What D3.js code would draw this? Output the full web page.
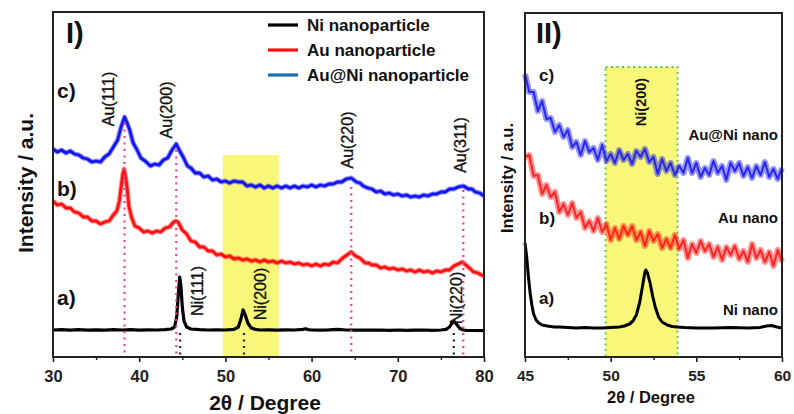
<!DOCTYPE html>
<html><head><meta charset="utf-8">
<script src="https://cdn.jsdelivr.net/npm/d3@7"></script>
<style>
html,body{margin:0;padding:0;background:#fff;}
svg{display:block;font-family:"Liberation Sans",Arial,sans-serif;}
</style></head>
<body><svg id="c" width="794" height="414"></svg>
<script>
// ---------- DATA ----------
// Panel I: 2θ (degree) vs intensity (a.u.)
const niLeft = [[30,27],[31,27.4],[32,26.8],[33,27.3],[34,26.9],[35,27.2],[36,26.8],[37,27.3],[38,27],[39,27.3],[40,26.9],[41,27.2],[42,27],[43,27.4],[43.7,28],[44.1,30],[44.35,40],[44.55,64],[44.7,80],[44.85,70],[45.0,50],[45.2,36],[45.5,30],[46,28],[47,27.3],[48,27],[49,27.2],[50,27],[51,27.6],[51.5,30],[51.8,38],[52.05,47],[52.3,42],[52.6,34],[53,29],[53.5,27.6],[54,27],[55,27.2],[56,26.8],[57,27.1],[58,27],[59,27.6],[59.3,28.2],[59.6,27.4],[60,27],[61,26.8],[62,27.1],[63,27.6],[64,27],[65,26.8],[66,27],[67,26.9],[68,27],[69,26.7],[70,27],[71,26.7],[72,26.8],[73,27],[74,26.7],[75,27],[75.6,27.6],[76,30],[76.3,34],[76.5,36],[76.8,33],[77.2,28.5],[77.6,27],[78,26.6],[79,26.5],[80,26.3]];
const auLeft = [[30,156],[30.5,152],[31,153],[31.5,149],[32,149],[32.5,145],[33,144],[33.5,140],[34,140],[34.5,136],[35,136],[35.5,133],[36,135],[36.5,136],[37,142],[37.4,146],[37.7,156],[37.9,170],[38.1,183],[38.25,188],[38.4,181],[38.6,169],[38.8,151],[39.1,140],[39.5,131],[40,129],[40.5,125],[41,126],[41.5,124],[42,126],[42.5,125],[43,129],[43.5,130],[44,135],[44.25,136],[44.5,135],[45,127],[45.5,123],[46,116],[46.5,115],[47,110],[47.5,110],[48,106],[48.5,106],[49,102],[49.5,103],[50,100],[50.5,101],[51,98],[51.5,99],[52,97],[52.5,98],[53,96],[53.5,97],[54,95],[54.5,97],[55,95],[55.5,96],[56,94],[56.5,96],[57,94],[57.5,95],[58,93],[58.5,94],[59,92],[59.5,93],[60,91],[60.5,93],[61,91],[61.5,93],[62,92],[62.5,95],[63,94],[63.6,99],[64.1,102],[64.6,105],[65.1,101],[65.6,99],[66.2,94],[66.6,94],[67,92],[67.5,92],[68,89],[68.5,90],[69,88],[69.5,89],[70,87],[70.5,88],[71,86],[71.5,87],[72,85],[72.5,87],[73,85],[73.5,86],[74,84],[74.5,86],[75,85],[75.5,87],[76,87],[76.5,91],[77,93],[77.5,95],[77.9,92],[78.3,89],[78.8,85],[79.3,84],[79.7,82],[80,81]];
const auniLeft = [[30,208],[30.5,205],[31,207],[31.5,204],[32,206],[32.5,203],[33,202],[33.5,199],[34,198],[34.5,195],[35,196],[35.5,195],[36,200],[36.5,203],[37,210],[37.5,217],[37.9,230],[38.3,240],[38.6,234],[38.9,227],[39.3,214],[39.7,208],[40.2,199],[40.7,196],[41.3,191],[41.8,193],[42.3,192],[42.8,197],[43.3,199],[43.8,207],[44.3,213],[44.7,206],[45.1,200],[45.6,191],[46,189],[46.5,184],[47,184],[47.5,180],[48,181],[48.5,177],[49,178],[49.5,175],[50,176],[50.5,174],[51,176],[51.5,175],[52,175],[52.5,171],[53,172],[53.5,170],[54,172],[54.5,169],[55,171],[55.5,169],[56,171],[56.5,169],[57,171],[57.5,169],[58,171],[58.5,169],[59,171],[59.5,170],[60,172],[60.5,170],[61,172],[61.5,171],[62,173],[62.5,173],[63,175],[63.5,175],[64,178],[64.6,179],[65.2,175],[65.6,174],[66,171],[66.5,169],[67,168],[67.5,165],[68,166],[68.5,163],[69,164],[69.5,162],[70,163],[70.5,161],[71,162],[71.5,160],[72,161],[72.5,160],[73,162],[73.5,161],[74,163],[74.5,163],[75,165],[75.5,165],[76,168],[76.5,168],[77,170],[77.6,171],[78.2,168],[78.6,168],[79,165],[79.5,164],[80,161]];

// Panel II: zoom 45–60°
const niRight = [[45,114],[45.1,100],[45.2,80],[45.3,64],[45.4,52],[45.5,43],[45.65,37],[45.8,34],[46,32],[46.3,31],[46.7,30],[47,30],[47.5,29.5],[48,29],[48.5,29.5],[49,29],[49.5,29],[50,29.5],[50.5,30],[50.8,31],[51.1,33],[51.3,36],[51.5,42],[51.7,55],[51.85,70],[52.0,85],[52.05,87],[52.15,84],[52.3,74],[52.45,61],[52.6,50],[52.8,40],[53.0,35],[53.3,32],[53.6,30.5],[53.9,30],[54.3,29.5],[55,29],[56,29],[57,29.5],[58,29],[58.7,29.5],[59.1,31],[59.4,31.5],[59.7,30],[60,29]];
const auRight = [[45,200],[45.25,202],[45.5,181],[45.75,182],[46,163],[46.25,172],[46.5,160],[46.75,165],[47,145],[47.25,153],[47.5,142],[47.75,154],[48,139],[48.25,145],[48.5,129],[48.75,136],[49,126],[49.25,139],[49.5,125],[49.75,133],[50,117],[50.25,129],[50.5,118],[50.75,131],[51,122],[51.25,131],[51.5,117],[51.75,125],[52,111],[52.25,126],[52.5,116],[52.75,123],[53,109],[53.25,118],[53.5,109],[53.75,122],[54,108],[54.25,117],[54.5,99],[54.75,113],[55,104],[55.25,116],[55.5,106],[55.75,113],[56,100],[56.25,110],[56.5,97],[56.75,110],[57,102],[57.25,111],[57.5,98],[57.75,106],[58,95],[58.25,113],[58.5,99],[58.75,107],[59,95],[59.25,105],[59.5,91],[59.75,107],[60,95]];
const auniRight = [[45,283],[45.25,265],[45.5,265],[45.75,246],[46,256],[46.25,238],[46.5,239],[46.75,225],[47,232],[47.25,220],[47.5,227],[47.75,210],[48,215],[48.25,202],[48.5,216],[48.75,205],[49,209],[49.25,197],[49.5,212],[49.75,196],[50,203],[50.25,194],[50.5,207],[50.75,197],[51,203],[51.25,193],[51.5,206],[51.75,200],[52,208],[52.25,195],[52.5,200],[52.75,183],[53,198],[53.25,186],[53.5,194],[53.75,182],[54,191],[54.25,184],[54.5,199],[54.75,184],[55,194],[55.25,180],[55.5,189],[55.75,182],[56,196],[56.25,184],[56.5,191],[56.75,177],[57,194],[57.25,186],[57.5,194],[57.75,181],[58,190],[58.25,179],[58.5,191],[58.75,182],[59,195],[59.25,180],[59.5,188],[59.75,178],[60,189]];

const auPeaks = [38.3, 44.3, 64.6, 77.6];
const auPeakLabels = ["Au(111)", "Au(200)", "Au(220)", "Au(311)"];
const auPeakTop = [234, 207, 170, 167];
const niPeaks = [44.75, 52.15, 76.5];
const niPeakLabels = ["Ni(111)", "Ni(200)", "Ni(220)"];
const legendLabels = ["Ni nanoparticle", "Au nanoparticle", "Au@Ni nanoparticle"];
const rightLabels = ["Au@Ni nano", "Au nano", "Ni nano"];
const curveTags = ["c)", "b)", "a)"];
const leftTicks = [30, 40, 50, 60, 70, 80];
const leftMinor = [35, 45, 55, 65, 75];
const rightTicks = [45, 50, 55, 60];
const rightMinor = [47.5, 52.5, 57.5];
const leftBand = [49.7, 56.2, 202];
const rightBand = [49.7, 53.9, 290];

// ---------- DRAW ----------
const svg = d3.select("#c");
const BLACK = "#000", RED = "#ff1010", BLUE = "#1414f0", LEGBLUE = "#1c6db4";
const PINK = "#e8438f";

const xL = d3.scaleLinear().domain([30, 80]).range([53, 484]);
const yL = d3.scaleLinear().domain([0, 345]).range([357, 12]);
const xR = d3.scaleLinear().domain([45, 60]).range([525, 782]);
const yR = d3.scaleLinear().domain([0, 344]).range([357, 13]);

function panel(x, y, ticks, minor, fs) {
  const g = svg.append("g");
  g.append("g").attr("transform", `translate(0,${y.range()[0]})`)
    .call(d3.axisBottom(x).tickValues(ticks).tickSize(5).tickSizeOuter(0).tickPadding(8).tickFormat(d3.format("d")))
    .call(a => a.select(".domain").remove())
    .call(a => a.selectAll("line").attr("stroke", "#222").attr("stroke-width", 1.6))
    .call(a => a.selectAll("text").attr("font-size", fs).attr("font-weight", "bold").attr("fill", "#222")
      .attr("font-family", "'Liberation Sans',Arial,sans-serif"));
  g.append("g").attr("transform", `translate(0,${y.range()[0]})`)
    .call(d3.axisBottom(x).tickValues(minor).tickSize(3).tickFormat(""))
    .call(a => a.select(".domain").remove())
    .call(a => a.selectAll("line").attr("stroke", "#222").attr("stroke-width", 1.4));
  return g;
}

// Panel I
svg.append("rect").attr("x", xL(leftBand[0])).attr("y", yL(leftBand[2]))
  .attr("width", xL(leftBand[1]) - xL(leftBand[0])).attr("height", yL(0) - yL(leftBand[2]))
  .attr("fill", "#f8f77a");

const lineL = d3.line().x(d => xL(d[0])).y(d => yL(d[1]));
[[auniLeft, BLUE], [auLeft, RED]].forEach(([data, c]) => {
  svg.append("path").datum(data).attr("d", lineL).attr("fill", "none")
    .attr("stroke", c).attr("stroke-opacity", 0.45).attr("stroke-width", 5).attr("stroke-linejoin", "round");
  svg.append("path").datum(data).attr("d", lineL).attr("fill", "none")
    .attr("stroke", c).attr("stroke-width", 2.8).attr("stroke-linejoin", "round");
});
svg.append("path").datum(niLeft).attr("d", lineL).attr("fill", "none")
  .attr("stroke", BLACK).attr("stroke-width", 3.2).attr("stroke-linejoin", "round");

auPeaks.forEach((p, i) => {
  svg.append("line").attr("x1", xL(p)).attr("x2", xL(p)).attr("y1", yL(auPeakTop[i])).attr("y2", yL(2))
    .attr("stroke", PINK).attr("stroke-width", 2.2).attr("stroke-dasharray", "2,4.5");
});
niPeaks.forEach(p => {
  svg.append("line").attr("x1", xL(p)).attr("x2", xL(p)).attr("y1", yL(24)).attr("y2", yL(2))
    .attr("stroke", "#222").attr("stroke-width", 2.2).attr("stroke-dasharray", "2,4.5");
});

const auLabelPos = [[-16, 99], [-10, 110], [-4, 140], [-3, 145]];
auPeakLabels.forEach((t, i) => {
  svg.append("text").attr("transform", `translate(${xL(auPeaks[i]) + auLabelPos[i][0]},${auLabelPos[i][1]}) rotate(-90)`)
    .attr("text-anchor", "middle").attr("dy", "0.36em").attr("font-size", 16).attr("fill", "#111")
    .attr("stroke", "#111").attr("stroke-width", 0.35).text(t);
});
const niLabelPos = [[17, 291], [16, 294], [2, 298]];
niPeakLabels.forEach((t, i) => {
  svg.append("text").attr("transform", `translate(${xL(niPeaks[i]) + niLabelPos[i][0]},${niLabelPos[i][1]}) rotate(-90)`)
    .attr("text-anchor", "middle").attr("dy", "0.36em").attr("font-size", 16).attr("fill", "#111")
    .attr("stroke", "#111").attr("stroke-width", 0.35).text(t);
});

panel(xL, yL, leftTicks, leftMinor, 16.5);
svg.append("rect").attr("x", 53).attr("y", 12).attr("width", 431).attr("height", 345)
  .attr("fill", "none").attr("stroke", "#222").attr("stroke-width", 2);

svg.append("text").attr("x", 66).attr("y", 43).attr("font-size", 29).attr("font-weight", "bold").attr("fill", "#111").text("I)");
const tagYL = [90, 188, 297];
curveTags.forEach((t, i) => svg.append("text").attr("x", 57).attr("y", tagYL[i]).attr("dy", "0.36em")
  .attr("font-size", 21).attr("font-weight", "bold").attr("fill", "#111").text(t));

const legColors = [BLACK, RED, LEGBLUE];
legendLabels.forEach((t, i) => {
  const yy = 25 + i * 25;
  svg.append("line").attr("x1", 268).attr("x2", 298).attr("y1", yy).attr("y2", yy)
    .attr("stroke", legColors[i]).attr("stroke-width", 3.2);
  svg.append("text").attr("x", 307).attr("y", yy).attr("dy", "0.36em").attr("font-size", 17)
    .attr("font-weight", "bold").attr("fill", "#111").text(t);
});

svg.append("text").attr("transform", "translate(25,183) rotate(-90)").attr("text-anchor", "middle")
  .attr("dy", "0.36em").attr("font-size", 21).attr("font-weight", "bold").attr("fill", "#111").text("Intensity / a.u.");
svg.append("text").attr("x", 265).attr("y", 402).attr("text-anchor", "middle").attr("dy", "0.36em")
  .attr("font-size", 21).attr("font-weight", "bold").attr("fill", "#111").text("2θ / Degree");

// Panel II
svg.append("rect").attr("x", xR(rightBand[0])).attr("y", yR(rightBand[2]))
  .attr("width", xR(rightBand[1]) - xR(rightBand[0])).attr("height", yR(0) - yR(rightBand[2]))
  .attr("fill", "#f8f77a").attr("stroke", "#3fd43f").attr("stroke-width", 1.8).attr("stroke-dasharray", "2,3.5");

const lineR = d3.line().x(d => xR(d[0])).y(d => yR(d[1]));
[[auRight, RED], [auniRight, BLUE]].forEach(([data, c]) => {
  svg.append("path").datum(data).attr("d", lineR).attr("fill", "none")
    .attr("stroke", c).attr("stroke-opacity", 0.45).attr("stroke-width", 6).attr("stroke-linejoin", "round");
  svg.append("path").datum(data).attr("d", lineR).attr("fill", "none")
    .attr("stroke", c).attr("stroke-opacity", 0.85).attr("stroke-width", 2).attr("stroke-linejoin", "round");
});
svg.append("path").datum(niRight).attr("d", lineR).attr("fill", "none")
  .attr("stroke", BLACK).attr("stroke-width", 3).attr("stroke-linejoin", "round");

panel(xR, yR, rightTicks, rightMinor, 15.5);
svg.append("rect").attr("x", 525).attr("y", 13).attr("width", 257).attr("height", 344)
  .attr("fill", "none").attr("stroke", "#222").attr("stroke-width", 2);

svg.append("text").attr("transform", `translate(${xR(52.15) - 7},102) rotate(-90)`).attr("text-anchor", "middle")
  .attr("dy", "0.36em").attr("font-size", 14.5).attr("font-weight", "bold").attr("fill", "#111").text("Ni(200)");

svg.append("text").attr("x", 536).attr("y", 43).attr("font-size", 29).attr("font-weight", "bold").attr("fill", "#111").text("II)");
const tagYR = [75, 218, 298];
curveTags.forEach((t, i) => svg.append("text").attr("x", 539).attr("y", tagYR[i]).attr("dy", "0.36em")
  .attr("font-size", 17).attr("font-weight", "bold").attr("fill", "#111").text(t));
const rlY = [135, 218, 310];
rightLabels.forEach((t, i) => svg.append("text").attr("x", 778).attr("y", rlY[i]).attr("dy", "0.36em")
  .attr("text-anchor", "end").attr("font-size", 15).attr("font-weight", "bold").attr("fill", "#111").text(t));

svg.append("text").attr("transform", "translate(507,178) rotate(-90)").attr("text-anchor", "middle")
  .attr("dy", "0.36em").attr("font-size", 16.5).attr("font-weight", "bold").attr("fill", "#111").text("Intensity / a.u.");
svg.append("text").attr("x", 651).attr("y", 397).attr("text-anchor", "middle").attr("dy", "0.36em")
  .attr("font-size", 16.5).attr("font-weight", "bold").attr("fill", "#111").text("2θ / Degree");
</script></body></html>
